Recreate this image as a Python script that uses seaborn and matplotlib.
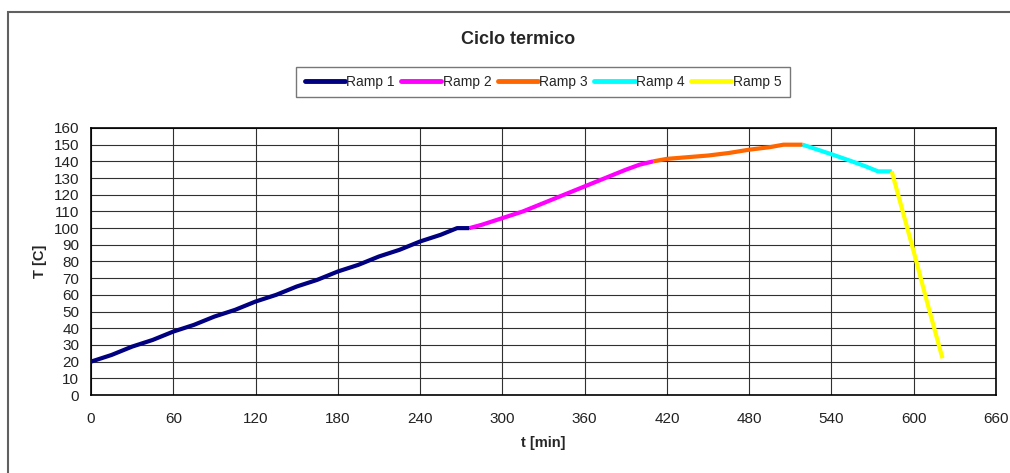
import numpy as np
import pandas as pd
import matplotlib
matplotlib.use("Agg")
import matplotlib.pyplot as plt
from matplotlib.patches import Rectangle
from matplotlib.lines import Line2D
import seaborn as sns

# Thermal cycle: time [min] and temperature [C] for each ramp
ramp1_t = [0, 15, 30, 45, 60, 75, 90, 105, 120, 135, 150, 165, 180, 195, 210, 225, 240, 255, 267, 276]
ramp1_T = [20, 24, 29, 33, 38, 42, 47, 51, 56, 60, 65, 69, 74, 78, 83, 87, 92, 96, 100, 100]

ramp2_t = [276, 285, 300, 315, 330, 345, 360, 375, 390, 400, 410]
ramp2_T = [100, 102, 106, 110, 115, 120, 125, 130, 135, 138, 140]

ramp3_t = [410, 420, 435, 450, 465, 480, 495, 505, 519]
ramp3_T = [140, 141.5, 142.5, 143.5, 145, 147, 148.5, 150, 150]

ramp4_t = [519, 530, 541, 555, 565, 574, 584]
ramp4_T = [150, 147, 144, 140, 137, 134, 134]

ramp5_t = [584, 590, 600, 610, 621]
ramp5_T = [134, 116, 86, 55, 22]

ramp_names = ["Ramp 1", "Ramp 2", "Ramp 3", "Ramp 4", "Ramp 5"]
ramp_colors = ["#000080", "#FF00FF", "#FF6600", "#00FFFF", "#FFFF00"]

x_ticks = list(range(0, 661, 60))
y_ticks = list(range(0, 161, 10))

frames = []
for name, t, T in zip(ramp_names,
                      [ramp1_t, ramp2_t, ramp3_t, ramp4_t, ramp5_t],
                      [ramp1_T, ramp2_T, ramp3_T, ramp4_T, ramp5_T]):
    frames.append(pd.DataFrame({"t": t, "T": T, "ramp": name}))
df = pd.concat(frames, ignore_index=True)

sns.set_style("white")
plt.rcParams["font.family"] = ["Liberation Sans", "DejaVu Sans"]

fig = plt.figure(figsize=(10.10, 4.73), dpi=100)
ax = fig.add_axes([0.0901, 0.1649, 0.8960, 0.5645])

palette = dict(zip(ramp_names, ramp_colors))
sns.lineplot(data=df, x="t", y="T", hue="ramp", palette=palette, sort=False,
             estimator=None, linewidth=3.0, ax=ax, legend=False,
             solid_capstyle="butt", zorder=3)

ax.set_xlim(0, 660)
ax.set_ylim(0, 160)
ax.set_xticks(x_ticks)
ax.set_yticks(y_ticks)
ax.grid(True, color="#303030", linewidth=0.8)
ax.set_axisbelow(True)
for s in ax.spines.values():
    s.set_color("black")
    s.set_linewidth(1.2)
ax.tick_params(axis="both", direction="inout", length=5, width=0.8,
               colors="black", labelsize=11, labelcolor="#222222")
ax.tick_params(axis="x", pad=10)
ax.tick_params(axis="y", pad=6)

ax.set_xlabel("t [min]", fontsize=10.5, fontweight="bold", labelpad=7)
ax.set_ylabel("T [C]", fontsize=10.5, fontweight="bold", labelpad=5)

fig.text(0.513, 0.916, "Ciclo termico", ha="center", va="center",
         fontsize=13, fontweight="bold")

handles = [Line2D([0], [0], color=c, linewidth=3.5) for c in ramp_colors]
leg = fig.legend(handles, ramp_names, loc="center", bbox_to_anchor=(0.5376, 0.8266),
                 ncol=5, fontsize=10, frameon=True, fancybox=False,
                 handlelength=2.9, handletextpad=0.1, columnspacing=0.45,
                 borderpad=0.6, borderaxespad=0)
leg.get_frame().set_edgecolor("#555555")
leg.get_frame().set_linewidth(1.0)

# outer chart frame
fig.patches.append(Rectangle((0.0079, -0.1), 1.2, 0.1 + 0.9746, transform=fig.transFigure,
                             fill=False, edgecolor="#606060", linewidth=1.5))

fig.savefig("out.png", dpi=100)
